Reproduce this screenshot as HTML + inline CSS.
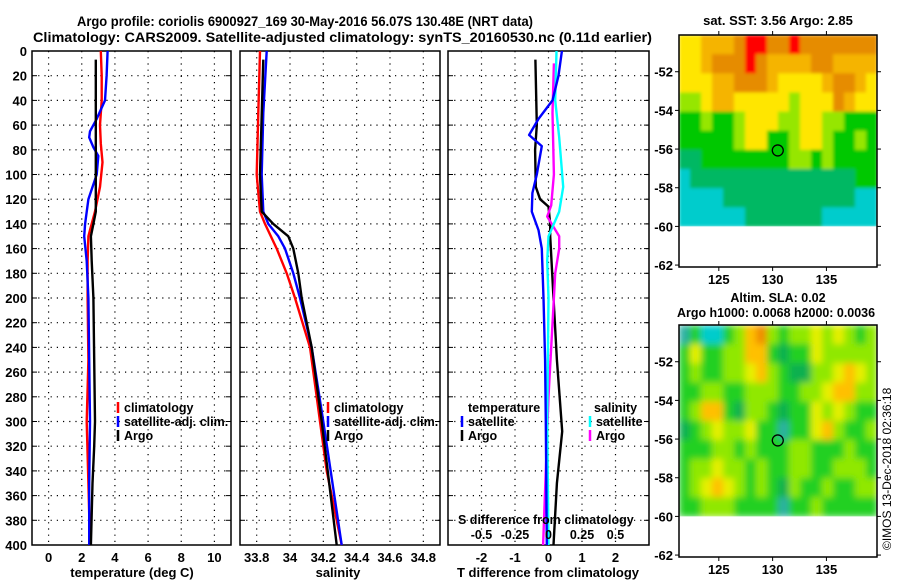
<!DOCTYPE html>
<html><head><meta charset="utf-8"><style>
html,body{margin:0;padding:0;background:#fff}
svg{display:block;font-family:"Liberation Sans",sans-serif;font-weight:bold}
</style></head><body>
<svg id="c" width="900" height="580" viewBox="0 0 900 580">
<defs>
<filter id="blurS" x="-5%" y="-5%" width="110%" height="110%"><feGaussianBlur stdDeviation="1.5" edgeMode="duplicate"/></filter>
<filter id="blurL" x="-5%" y="-5%" width="110%" height="110%"><feGaussianBlur stdDeviation="3.5" edgeMode="duplicate"/></filter>
</defs>
<text x="77" y="26" font-size="13.5" textLength="456" lengthAdjust="spacingAndGlyphs">Argo profile: coriolis 6900927_169 30-May-2016 56.07S 130.48E (NRT data)</text>
<text x="33" y="42" font-size="13.5" textLength="619" lengthAdjust="spacingAndGlyphs">Climatology: CARS2009. Satellite-adjusted climatology: synTS_20160530.nc (0.11d earlier)</text>
<text x="778" y="25" font-size="13" text-anchor="middle">sat. SST: 3.56 Argo: 2.85</text>
<text x="778" y="302" font-size="12.5" text-anchor="middle">Altim. SLA: 0.02</text>
<text x="776" y="317" font-size="12.5" text-anchor="middle" textLength="198" lengthAdjust="spacingAndGlyphs">Argo h1000: 0.0068 h2000: 0.0036</text>
<text transform="translate(891,550) rotate(-90)" font-size="12" font-weight="normal">©IMOS 13-Dec-2018 02:36:18</text>
</svg>
<script>
// ---------- data ----------
const depthTicks=[0,20,40,60,80,100,120,140,160,180,200,220,240,260,280,300,320,340,360,380,400];
const tTicks=[0,2,4,6,8,10];
const sTicks=[33.8,34,34.2,34.4,34.6,34.8];
const sTickLabels=["33.8","34","34.2","34.4","34.6","34.8"];
const dTicks=[-2,-1,0,1,2];
const dSTicks=[-0.5,-0.25,0,0.25,0.5];
const dSTickLabels=["-0.5","-0.25","0","0.25","0.5"];

const climDepth=[0,20,40,60,75,90,110,130,145,150,170,200,250,300,350,400];
const climT=[3.15,3.2,3.2,3.1,3.15,3.25,3.1,2.8,2.5,2.4,2.35,2.35,2.4,2.3,2.4,2.5];
const satDepth=[0,20,40,55,65,70,78,85,100,120,140,150,170,200,250,300,350,400];
const satT=[3.56,3.5,3.4,2.9,2.5,2.45,2.7,3.0,2.9,2.4,2.2,2.15,2.3,2.4,2.45,2.5,2.45,2.45];
const argoDepth=[7,40,80,100,130,140,150,170,200,250,300,320,350,400];
const argoT=[2.85,2.85,2.85,2.85,2.85,2.7,2.55,2.6,2.7,2.75,2.8,2.75,2.65,2.55];

const climSDepth=[0,50,100,130,140,160,180,200,240,280,300,340,400];
const climS=[33.82,33.81,33.8,33.82,33.85,33.92,33.98,34.03,34.12,34.16,34.18,34.22,34.31];
const satSDepth=[0,50,100,130,140,150,160,180,200,240,300,400];
const satS=[33.86,33.84,33.83,33.84,33.87,33.93,33.97,34.02,34.06,34.13,34.2,34.31];
const argoSDepth=[7,100,130,140,150,160,180,200,240,300,400];
const argoS=[33.84,33.82,33.83,33.9,33.99,34.02,34.05,34.07,34.13,34.19,34.28];

const satDTDepth=[0,20,40,55,68,77,100,115,130,145,160,200,250,300,400];
const satDT=[0.4,0.3,0.12,-0.3,-0.58,-0.2,-0.35,-0.48,-0.5,-0.3,-0.2,-0.15,-0.1,-0.08,-0.05];
const argoDTDepth=[7,60,80,110,120,126,140,150,200,250,308,350,400];
const argoDT=[-0.39,-0.35,-0.4,-0.38,-0.25,0,0.05,0.05,0.15,0.25,0.41,0.25,0.15];
const satDSDepth=[0,40,70,110,130,150,170,200,300,400];
const satDS=[0.06,0.05,0.08,0.11,0.08,0.0,-0.01,0.0,-0.01,0.0];
const argoDSDepth=[10,50,100,125,134,150,160,180,200,280,340,400];
const argoDS=[0.04,0.03,0.04,0.02,-0.01,0.08,0.08,0.05,0.04,0.0,-0.02,-0.04];

const latTicks=[-52,-54,-56,-58,-60,-62];
const lonTicks=[125,130,135];
const sstGrid=[
[4,4,5,5,5,6,7,7,6,6,7,6,6,6,6,6,6,6],
[4,4,5,6,6,6,7,6,5,5,5,5,6,6,5,5,5,5],
[4,4,4,5,5,6,6,6,5,4,4,4,4,5,6,6,5,4],
[3,3,4,5,5,4,4,4,4,4,3,4,4,4,6,5,4,4],
[2,2,3,2,2,3,4,4,4,3,3,4,4,3,3,2,2,2],
[2,2,2,2,2,3,4,4,2,2,3,4,4,3,2,2,3,2],
[1,1,2,2,2,2,2,2,2,2,3,3,2,3,2,2,2,2],
[0,1,1,1,1,1,1,1,1,1,1,1,1,1,1,1,2,2],
[0,0,0,0,1,1,1,1,1,1,1,1,1,1,1,1,0,0],
[0,0,0,0,0,0,1,1,1,1,1,1,1,0,0,0,0,0]];
const slaGrid=[
[1,3,0,0,3,4,6,7,4,3,4,4,5,4,5,4,3,4],
[3,5,3,3,4,4,6,6,3,2,3,3,5,4,4,4,4,4],
[3,4,3,3,4,4,5,6,4,3,2,2,4,4,5,6,5,4],
[3,3,4,4,3,3,4,4,4,3,3,4,4,5,6,6,4,4],
[3,4,6,6,3,2,4,4,3,2,3,3,5,4,5,4,3,3],
[2,3,4,5,4,4,5,3,3,1,3,3,5,6,4,3,3,4],
[3,3,3,4,4,3,4,3,3,3,4,4,3,3,3,4,3,3],
[3,4,4,5,4,4,3,4,3,3,4,4,3,3,4,4,4,3],
[3,4,5,6,5,4,3,4,3,2,4,3,3,4,3,3,4,4],
[3,3,4,4,4,3,3,3,3,1,3,3,4,3,3,3,3,3]];
const sstColors=["#00cccc","#00b864","#00c800","#96e600","#ffe600","#f5b400","#e68c00","#ff0000"];
const slaColors=["#00cccc","#2ab0a0","#10b050","#20d020","#90e800","#e6f000","#ffc000","#f08c00"];
const argoLon=130.48, argoLat=-56.07;

// ---------- drawing ----------
const NS="http://www.w3.org/2000/svg";
const svg=document.getElementById('c');
function mk(tag,attrs,parent){const e=document.createElementNS(NS,tag);for(const k in attrs)e.setAttribute(k,attrs[k]);(parent||svg).appendChild(e);return e;}
const yTop=51,yBot=545;
function yD(d){return yTop+(d-0)/(400-0)*(yBot-yTop);}
function xLin(v,v0,v1,x0,x1){return x0+(v-v0)/(v1-v0)*(x1-x0);}

function panel(name,x0,x1,v0,v1,ticks,labels,showDepth){
  const g=mk('g',{});
  
  
  const fx=v=>xLin(v,v0,v1,x0,x1);
  depthTicks.forEach(d=>{
    if(d>0&&d<400){const l=mk('line',{x1:x0,x2:x1,y1:yD(d),y2:yD(d),stroke:'#000','stroke-width':1.2,'stroke-dasharray':'1.2 5'},g);
    }
    mk('line',{x1:x0,x2:x0+5,y1:yD(d),y2:yD(d),stroke:'#000','stroke-width':1},g);
    mk('line',{x1:x1-5,x2:x1,y1:yD(d),y2:yD(d),stroke:'#000','stroke-width':1},g);
    if(showDepth){const t=mk('text',{x:x0-5,y:yD(d)+5,'font-size':13,'text-anchor':'end'},g);t.textContent=d;
      }
  });
  ticks.forEach((v,i)=>{
    const x=fx(v);
    const l=mk('line',{x1:x,x2:x,y1:yTop,y2:yBot,stroke:'#000','stroke-width':1.2,'stroke-dasharray':'1.2 5'},g);
    
    const t=mk('text',{x:x,y:yBot+17,'font-size':13,'text-anchor':'middle'},g);t.textContent=labels[i];
    
  });
  const r=mk('rect',{x:x0,y:yTop,width:x1-x0,height:yBot-yTop,fill:'none',stroke:'#000','stroke-width':1.5},g);
  
  return {g,fx};
}
function line(p,depths,vals,color,name,sc){
  const pts=depths.map((d,i)=>p.fx(sc?vals[i]*sc:vals[i]).toFixed(1)+','+yD(d).toFixed(1)).join(' ');
  const l=mk('polyline',{points:pts,fill:'none',stroke:color,'stroke-width':2.4,'stroke-linejoin':'round'},p.g);
  
  
}
function legend(g,x,y,color,label,name){
  if(color){mk('line',{x1:x,x2:x,y1:y-10,y2:y+1,stroke:color,'stroke-width':2.5},g);}
  const t=mk('text',{x:x+6,y:y,'font-size':12.5},g);t.textContent=label;
  
}

const p1=panel('temperature-panel',32,231,-1,11,tTicks,tTicks.map(String),true);
line(p1,climDepth,climT,'#ff0000','climatology-temperature-line');
line(p1,satDepth,satT,'#0000ff','satellite-temperature-line');
line(p1,argoDepth,argoT,'#000000','argo-temperature-line');
legend(p1.g,118,412,'#ff0000','climatology','legend-climatology');
legend(p1.g,118,426,'#0000ff','satellite-adj. clim.','legend-satellite');
legend(p1.g,118,440,'#000000','Argo','legend-argo');
let t=mk('text',{x:132,y:577,'font-size':13,'text-anchor':'middle'});t.textContent='temperature (deg C)';


const p2=panel('salinity-panel',240,440,33.7,34.9,sTicks,sTickLabels,false);
line(p2,climSDepth,climS,'#ff0000','climatology-salinity-line');
line(p2,satSDepth,satS,'#0000ff','satellite-salinity-line');
line(p2,argoSDepth,argoS,'#000000','argo-salinity-line');
legend(p2.g,328,412,'#ff0000','climatology','legend-climatology-s');
legend(p2.g,328,426,'#0000ff','satellite-adj. clim.','legend-satellite-s');
legend(p2.g,328,440,'#000000','Argo','legend-argo-s');
t=mk('text',{x:338,y:577,'font-size':13,'text-anchor':'middle'});t.textContent='salinity';


const p3=panel('difference-panel',448,649,-3,3,dTicks,dTicks.map(String),false);
line(p3,argoDTDepth,argoDT,'#000000','argo-t-difference-line');
line(p3,argoDSDepth,argoDS,'#ff00ff','argo-s-difference-line',4);
line(p3,satDSDepth,satDS,'#00ffff','satellite-s-difference-line',4);
line(p3,satDTDepth,satDT,'#0000ff','satellite-t-difference-line');
legend(p3.g,462,412,null,'temperature','legend-temperature-heading');
legend(p3.g,462,426,'#0000ff','satellite','legend-t-satellite');
legend(p3.g,462,440,'#000000','Argo','legend-t-argo');
legend(p3.g,588,412,null,'salinity','legend-salinity-heading');
legend(p3.g,590,426,'#00ffff','satellite','legend-s-satellite');
legend(p3.g,590,440,'#ff00ff','Argo','legend-s-argo');
t=mk('text',{x:458,y:524,'font-size':12.5},p3.g);t.textContent='S difference from climatology';

dSTicks.forEach((v,i)=>{const tt=mk('text',{x:p3.fx(v*4),y:539,'font-size':12.5,'text-anchor':'middle'},p3.g);tt.textContent=dSTickLabels[i];
});
t=mk('text',{x:548,y:577,'font-size':13,'text-anchor':'middle'});t.textContent='T difference from climatology';


// maps
const lon0=121.3,lon1=139.7,lat0=-50.1,lat1=-62.1;
let clipN=0;
function map(name,y0,y1,grid,colors,filt){
  const x0=679,x1=877;
  const g=mk('g',{});
  
  
  const fx=v=>xLin(v,lon0,lon1,x0,x1), fy=v=>xLin(v,lat0,lat1,y0,y1);
  const cid='clip'+(clipN++);
  const cp=mk('clipPath',{id:cid},svg.querySelector('defs'));
  mk('rect',{x:x0,y:y0,width:x1-x0,height:fy(-60)-y0},cp);
  const outer=mk('g',{'clip-path':'url(#'+cid+')'},g);
  const cells=mk('g',{filter:'url(#'+filt+')'},outer);
  const nr=grid.length,nc=grid[0].length;
  const cw=(lon1-lon0)/nc, rh=(-60-lat0)/nr;
  grid.forEach((row,r)=>row.forEach((v,c)=>{
    const xa=fx(lon0+c*cw),xb=fx(lon0+(c+1)*cw),ya=fy(lat0+r*rh),yb=fy(lat0+(r+1)*rh);
    const cell=mk('rect',{x:xa,y:ya,width:xb-xa+0.5,height:yb-ya+0.5,fill:colors[v]},cells);
    
    
  }));
  mk('rect',{x:x0,y:y0,width:x1-x0,height:y1-y0,fill:'none',stroke:'#000','stroke-width':1.5},g);
  latTicks.forEach(v=>{const y=fy(v);
    mk('line',{x1:x0-4,x2:x0,y1:y,y2:y,stroke:'#000'},g);mk('line',{x1:x1,x2:x1+4,y1:y,y2:y,stroke:'#000'},g);
    const tt=mk('text',{x:x0-6,y:y+5,'font-size':13,'text-anchor':'end'},g);tt.textContent=v;
    });
  lonTicks.forEach(v=>{const x=fx(v);
    mk('line',{x1:x,x2:x,y1:y0-4,y2:y0,stroke:'#000'},g);mk('line',{x1:x,x2:x,y1:y1,y2:y1+4,stroke:'#000'},g);
    const tt=mk('text',{x:x,y:y1+17,'font-size':13,'text-anchor':'middle'},g);tt.textContent=v;
    });
  const c=mk('circle',{cx:fx(argoLon),cy:fy(argoLat),r:5.5,fill:'none',stroke:'#000','stroke-width':1.3},g);
  
  
}
map('sst-map',35,267,sstGrid,sstColors,'blurS');
map('sla-map',325,557,slaGrid,slaColors,'blurL');
</script>
</body></html>
